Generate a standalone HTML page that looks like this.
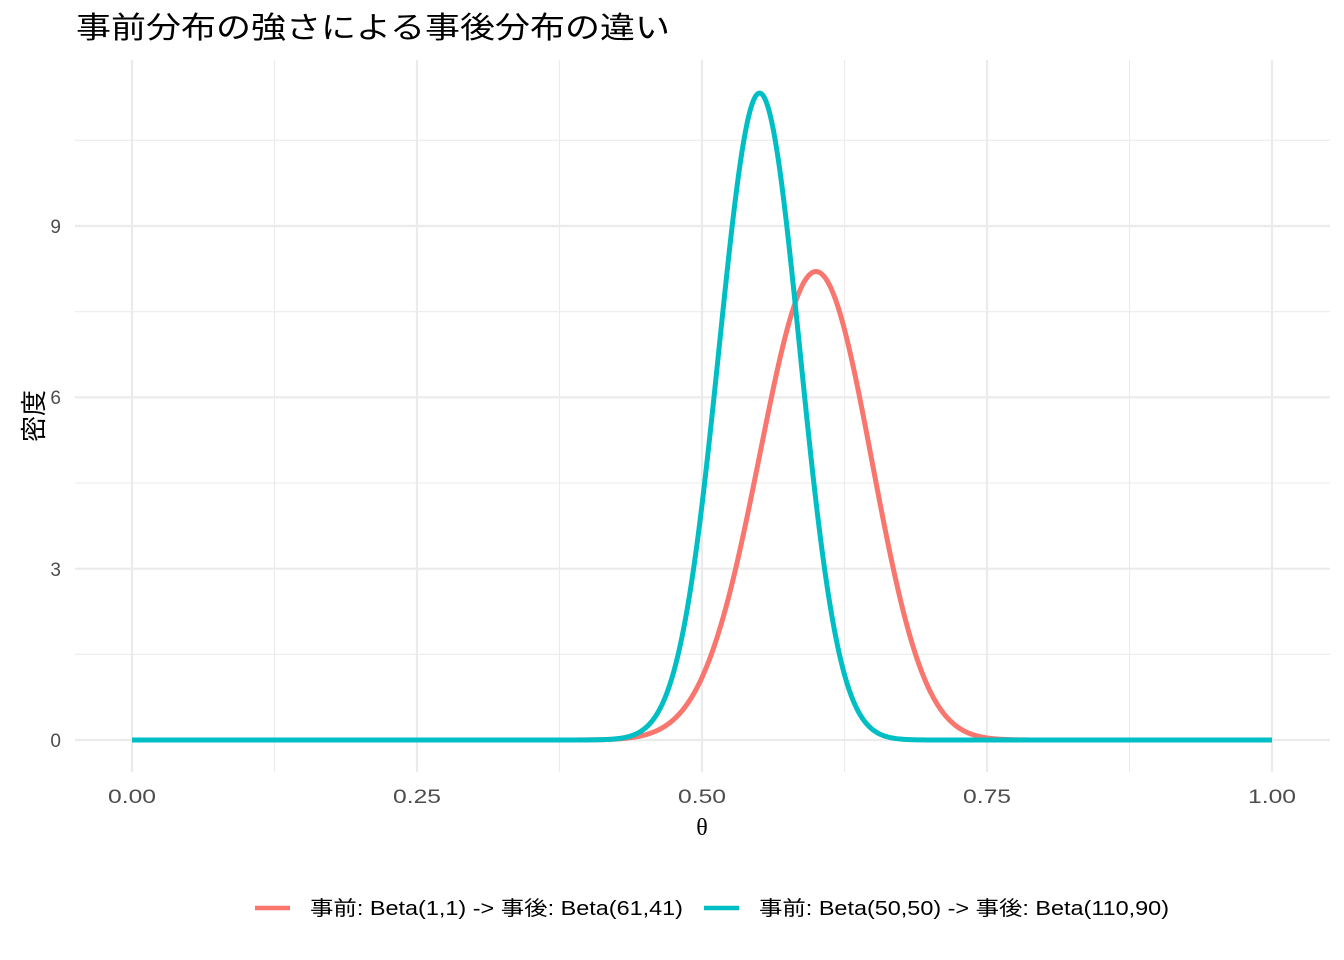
<!DOCTYPE html>
<html><head><meta charset="utf-8">
<style>
body{margin:0;background:#fff;}
svg{display:block;}
text{font-family:"Liberation Sans","Noto Sans CJK JP",sans-serif;}
</style></head>
<body>
<svg id="s" width="1344" height="960" xmlns="http://www.w3.org/2000/svg">
<rect width="1344" height="960" fill="#fff"/>
<g stroke="#ebebeb" stroke-width="1.1">
<line x1="274.5" y1="60" x2="274.5" y2="772"/>
<line x1="559.5" y1="60" x2="559.5" y2="772"/>
<line x1="844.5" y1="60" x2="844.5" y2="772"/>
<line x1="1129.5" y1="60" x2="1129.5" y2="772"/>
<line x1="75" y1="654.3" x2="1330" y2="654.3"/>
<line x1="75" y1="483" x2="1330" y2="483"/>
<line x1="75" y1="311.7" x2="1330" y2="311.7"/>
<line x1="75" y1="140.3" x2="1330" y2="140.3"/>
</g>
<g stroke="#ebebeb" stroke-width="2.2">
<line x1="132" y1="60" x2="132" y2="772"/>
<line x1="417" y1="60" x2="417" y2="772"/>
<line x1="702" y1="60" x2="702" y2="772"/>
<line x1="987" y1="60" x2="987" y2="772"/>
<line x1="1272" y1="60" x2="1272" y2="772"/>
<line x1="75" y1="740" x2="1330" y2="740"/>
<line x1="75" y1="568.7" x2="1330" y2="568.7"/>
<line x1="75" y1="397.3" x2="1330" y2="397.3"/>
<line x1="75" y1="226" x2="1330" y2="226"/>
</g>
<g id="curves"></g>
<g fill="#4d4d4d" font-size="19">
<text x="61" y="747" text-anchor="end">0</text>
<text x="61" y="576" text-anchor="end">3</text>
<text x="61" y="404" text-anchor="end">6</text>
<text x="61" y="233" text-anchor="end">9</text>
<text x="108" y="803" textLength="48" lengthAdjust="spacingAndGlyphs">0.00</text>
<text x="393" y="803" textLength="48" lengthAdjust="spacingAndGlyphs">0.25</text>
<text x="678" y="803" textLength="48" lengthAdjust="spacingAndGlyphs">0.50</text>
<text x="963" y="803" textLength="48" lengthAdjust="spacingAndGlyphs">0.75</text>
<text x="1248" y="803" textLength="48" lengthAdjust="spacingAndGlyphs">1.00</text>
</g>
<text x="702" y="835" text-anchor="middle" font-size="24" fill="#000" style="font-family:'Liberation Serif',serif">θ</text>
<text transform="translate(43,416) rotate(-90)" text-anchor="middle" font-size="26" fill="#000">密度</text>
<text x="76" y="38" font-size="30" fill="#000" textLength="594" lengthAdjust="spacingAndGlyphs">事前分布の強さによる事後分布の違い</text>
<line x1="255" y1="908" x2="290" y2="908" stroke="#F8766D" stroke-width="4.5"/>
<text x="310" y="915" font-size="20" fill="#000" textLength="373" lengthAdjust="spacingAndGlyphs">事前: Beta(1,1) -&gt; 事後: Beta(61,41)</text>
<line x1="704" y1="908" x2="739" y2="908" stroke="#00BFC4" stroke-width="4.5"/>
<text x="759" y="915" font-size="20" fill="#000" textLength="410" lengthAdjust="spacingAndGlyphs">事前: Beta(50,50) -&gt; 事後: Beta(110,90)</text>
</svg>
<script>
function lg(z){var c=[76.18009172947146,-86.50532032941677,24.01409824083091,-1.231739572450155,0.1208650973866179e-2,-0.5395239384953e-5];var x=z,y=z,t=x+5.5;t-=(x+0.5)*Math.log(t);var s=1.000000000190015;for(var j=0;j<6;j++)s+=c[j]/++y;return -t+Math.log(2.5066282746310005*s/x);}
function path(a,b){var lb=lg(a)+lg(b)-lg(a+b),d="";for(var i=0;i<=1000;i++){var x=i/1000,v;if(x<=0||x>=1)v=0;else v=Math.exp((a-1)*Math.log(x)+(b-1)*Math.log(1-x)-lb);var px=132+x*1140,py=740-v*57.111;d+=(i?"L":"M")+px.toFixed(2)+" "+py.toFixed(2);}return d;}
var g=document.getElementById("curves"),ns="http://www.w3.org/2000/svg";
[[61,41,"#F8766D"],[110,90,"#00BFC4"]].forEach(function(p){var e=document.createElementNS(ns,"path");e.setAttribute("d",path(p[0],p[1]));e.setAttribute("fill","none");e.setAttribute("stroke",p[2]);e.setAttribute("stroke-width","5");e.setAttribute("stroke-linejoin","round");g.appendChild(e);});
</script>
</body></html>
